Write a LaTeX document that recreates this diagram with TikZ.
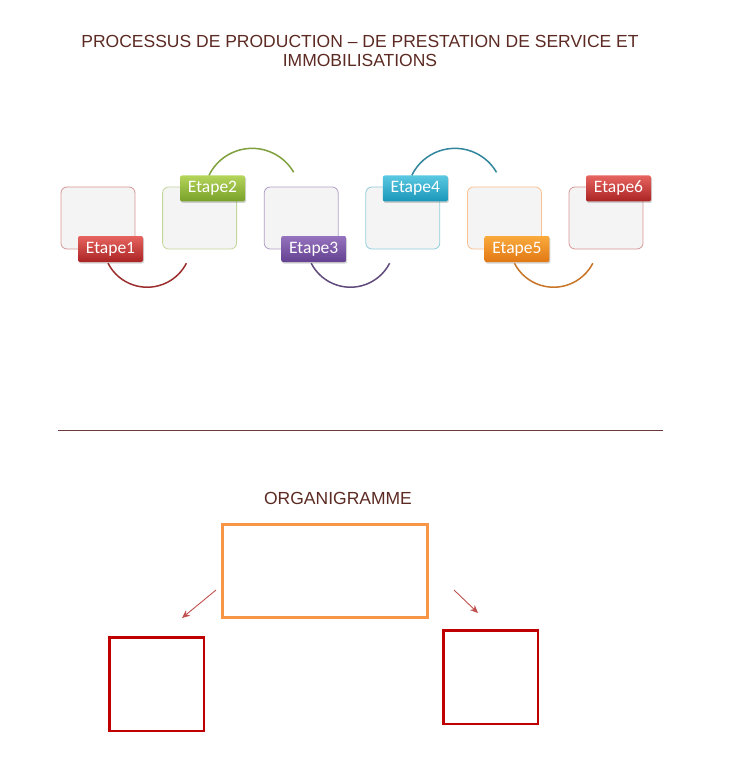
\documentclass[tikz,border=0pt]{standalone}
\usepackage{fontspec}
\setmainfont{Liberation Sans}
\newfontfamily\etapefont{Carlito}
\usetikzlibrary{positioning,shadows,arrows.meta}
\definecolor{titre}{HTML}{5C2A22}
\definecolor{trait}{HTML}{6B3A3A}
\definecolor{fondboite}{HTML}{F4F4F4}
\definecolor{orgorange}{HTML}{F79646}
\definecolor{orgrouge}{HTML}{C00000}
\definecolor{fleche}{HTML}{C0504D}
% bords des boites
\definecolor{bordrouge}{HTML}{D99594}
\definecolor{bordvert}{HTML}{C3D69B}
\definecolor{bordviolet}{HTML}{B2A1C7}
\definecolor{bordbleu}{HTML}{92CDDC}
\definecolor{bordorange}{HTML}{FAC08F}
% etiquettes (haut / bas)
\definecolor{rougeh}{HTML}{E6645F}\definecolor{rougeb}{HTML}{AA2323}
\definecolor{verth}{HTML}{B4D45A}\definecolor{vertb}{HTML}{78A028}
\definecolor{violeth}{HTML}{9673BE}\definecolor{violetb}{HTML}{644191}
\definecolor{bleuh}{HTML}{5AC8E1}\definecolor{bleub}{HTML}{1996B9}
\definecolor{orangeh}{HTML}{FAAA3C}\definecolor{orangeb}{HTML}{E17814}
% arcs
\definecolor{arcrouge}{HTML}{9B2D2D}
\definecolor{arcvert}{HTML}{7FA03C}
\definecolor{arcviolet}{HTML}{604A7B}
\definecolor{arcbleu}{HTML}{31859C}
\definecolor{arcorange}{HTML}{C87528}
\tikzset{
	boite/.style={draw=#1, rounded corners=6pt, fill=fondboite, line width=0.8pt,
		minimum width=74pt, minimum height=62pt, inner sep=0pt},
	etape/.style={rounded corners=2pt, top color=#1h, bottom color=#1b,
		minimum width=65pt, minimum height=26pt, inner sep=0pt, text=white,
		font=\etapefont\fontsize{17.5}{17.5}\selectfont,
		drop shadow={opacity=0.35, shadow xshift=1pt, shadow yshift=-1.5pt}},
	lien/.style={draw=#1, line width=1.5pt},
	titrefont/.style={text=titre, font=\fontsize{17.5}{19}\selectfont, align=center},
	carre/.style={draw=orgrouge, line width=2.5pt, minimum width=94.5pt, minimum height=93.5pt, inner sep=0pt},
}

\begin{document}
\begin{tikzpicture}[x=1pt,y=-1pt]
	\useasboundingbox (0,0) rectangle (751,767);
	\node[titrefont] (titre) at (360,51) {PROCESSUS DE PRODUCTION -- DE PRESTATION DE SERVICE ET\\IMMOBILISATIONS};
	% les boites
	\node[boite=bordrouge] (b1) at (98,218) {};%1
	\node[boite=bordvert] (b2) at (199.6,218) {};%2
	\node[boite=bordviolet] (b3) at (301.2,218) {};%3
	\node[boite=bordbleu] (b4) at (402.8,218) {};%4
	\node[boite=bordorange] (b5) at (504.4,218) {};%5
	\node[boite=bordrouge] (b6) at (606,218) {};%6
	% les etiquettes
	\node[etape=rouge] (e1) at (110.5,249) {Etape1};
	\node[etape=vert] (e2) at (212.5,188.5) {Etape2};
	\node[etape=violet] (e3) at (313.7,249) {Etape3};
	\node[etape=bleu] (e4) at (415.3,188.5) {Etape4};
	\node[etape=orange] (e5) at (516.9,249) {Etape5};
	\node[etape=rouge] (e6) at (618.5,188.5) {Etape6};
	% les arcs
	\draw[lien=arcrouge] (e1.south) ++(-2.5,1) arc[start angle=153, end angle=27, radius=44];
	\draw[lien=arcvert] (e2.north) ++(-3.5,0) arc[start angle=206, end angle=330, radius=48];
	\draw[lien=arcviolet] (e3.south) ++(-2.5,1) arc[start angle=153, end angle=27, radius=44];
	\draw[lien=arcbleu] (e4.north) ++(-3.5,0) arc[start angle=206, end angle=330, radius=48];
	\draw[lien=arcorange] (e5.south) ++(-2.5,1) arc[start angle=153, end angle=27, radius=44];
	\draw[trait, line width=0.7pt] (58,430) -- (663,430);
	% organigramme
	\node[titrefont] (org) at (338,498) {ORGANIGRAMME};
	\node[draw=orgorange, line width=3pt, minimum width=205pt, minimum height=93pt, inner sep=0pt] (chef) at (325,571) {};
	\node[carre] (g) at (156.5,684) {};
	\node[carre] (d) at (490.5,677) {};
	\coordinate (fg1) at (216,590);
	\coordinate (fg2) at (182,618);
	\coordinate (fd1) at (454,590);
	\coordinate (fd2) at (478,613);
	\draw[fleche, line width=0.9pt, -{Stealth[length=8pt,width=7pt]}] (fg1) -- (fg2);
	\draw[fleche, line width=0.9pt, -{Stealth[length=8pt,width=7pt]}] (fd1) -- (fd2);
\end{tikzpicture}
\end{document}
